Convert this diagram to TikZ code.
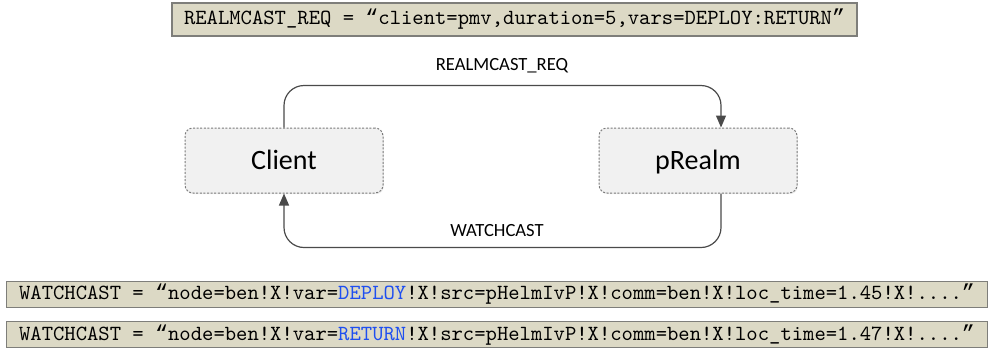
\documentclass[tikz,border=0pt]{standalone}
\usepackage{fontspec}
\usetikzlibrary{positioning,arrows.meta,shadows}
\newfontfamily\labelfont{Carlito}
\newfontfamily\codefont{Latin Modern Mono}
\newfontfamily\quotefont{Liberation Mono}
\newcommand\openq{{\quotefont “}}
\newcommand\closeq{{\quotefont ”}}
\definecolor{CodeBg}{HTML}{DCD9C5}
\definecolor{CodeEdge}{HTML}{7E7E7A}
\definecolor{NodeBg}{HTML}{F1F1F1}
\definecolor{NodeEdge}{HTML}{7A7A7A}
\definecolor{Wire}{HTML}{4A4A4A}
\definecolor{VarBlue}{HTML}{1F4FF0}

\begin{document}
\begin{tikzpicture}[
        x=0.5pt, y=-0.5pt,
        codebox/.style={draw=CodeEdge, fill=CodeBg, line width=0.6pt,
                        font=\codefont\fontsize{10.8}{12}\selectfont,
                        inner sep=0pt, minimum height=13pt},
        proc/.style={draw=NodeEdge, fill=NodeBg, dash pattern=on 1pt off 0.8pt,
                     line width=0.5pt, rounded corners=4pt,
                     drop shadow={opacity=0.15, shadow xshift=0.4pt, shadow yshift=-0.6pt},
                     font=\labelfont\fontsize{14}{16}\selectfont,
                     text height=9pt, text depth=0pt,
                     minimum width=99pt, minimum height=32.5pt},
        lbl/.style={font=\labelfont\fontsize{9.3}{11}\selectfont, inner sep=0pt},
        flow/.style={draw=Wire, line width=0.6pt, rounded corners=10pt,
                     -{Triangle[length=6pt,width=5pt]}}
      ]
        \useasboundingbox (0,0) rectangle (989,354);
        % request string
        \node[codebox, minimum width=342.5pt, minimum height=16.5pt] (req) at (514.5,19.5)
          {REALMCAST\_REQ = \openq client=pmv,duration=5,vars=DEPLOY:RETURN\closeq};
        % the two processes
        \node[proc] (client) at (284,160.5) {Client};
        \node[proc, right=107.5pt of client] (realm) {pRealm};
        \node[lbl] (reqlbl) at (502,66) {REALMCAST\_REQ};
        \node[lbl] (watchlbl) at (497,231) {WATCHCAST};
        \draw[flow] (client.north) -- ++(0,-42) -| ([xshift=11.5pt]realm.north);
        \draw[flow] ([xshift=11.5pt]realm.south) -- ++(0,54) -| (client.south);
        % replies
        \node[codebox, minimum width=490.5pt] (watch1) at (497,294.5)
          {WATCHCAST = \openq node=ben!X!var=\textcolor{VarBlue}{DEPLOY}!X!src=pHelmIvP!X!comm=ben!X!loc\_time=1.45!X!....\closeq};
        \node[codebox, minimum width=490.5pt, below=6.5pt of watch1] (watch2)
          {WATCHCAST = \openq node=ben!X!var=\textcolor{VarBlue}{RETURN}!X!src=pHelmIvP!X!comm=ben!X!loc\_time=1.47!X!....\closeq};
      \end{tikzpicture}
\end{document}
